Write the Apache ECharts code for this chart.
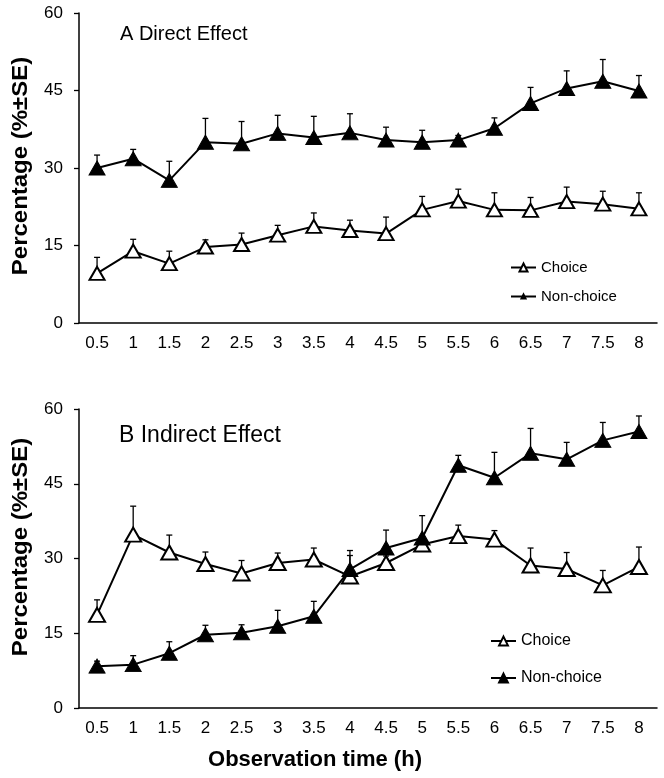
<!DOCTYPE html>
<html>
<head>
<meta charset="utf-8">
<script src="https://cdn.jsdelivr.net/npm/echarts@6/dist/echarts.min.js"></script>
<style>
html,body{margin:0;padding:0;background:#fff;}
#chart{width:664px;height:778px;}
</style>
</head>
<body>
<div id="chart"></div>
<script>
// ---- data ----
const categories = ['0.5','1','1.5','2','2.5','3','3.5','4','4.5','5','5.5','6','6.5','7','7.5','8'];
const yTicks = [0, 15, 30, 45, 60];

// Panel A: Direct Effect
const choiceA      = [9.6, 13.9, 11.5, 14.7, 15.2, 17.0, 18.7, 17.9, 17.3, 21.9, 23.6, 21.9, 21.8, 23.5, 23.0, 22.1];
const choiceA_SE   = [3.1, 2.3, 2.4, 1.4, 2.2, 1.9, 2.6, 2.0, 3.2, 2.6, 2.3, 3.3, 2.5, 2.8, 2.5, 3.1];
const nonChoiceA   = [30.0, 31.8, 27.6, 35.0, 34.7, 36.7, 35.9, 36.8, 35.4, 35.0, 35.4, 37.7, 42.5, 45.4, 46.8, 44.9];
const nonChoiceA_SE= [2.5, 1.8, 3.7, 4.6, 4.3, 3.5, 4.1, 3.7, 2.5, 2.3, 0.9, 2.0, 3.1, 3.4, 4.2, 3.0];

// Panel B: Indirect Effect
const choiceB      = [18.7, 34.8, 31.2, 28.9, 27.0, 29.1, 29.8, 26.4, 29.1, 32.8, 34.5, 33.8, 28.6, 27.9, 24.6, 28.3];
const choiceB_SE   = [3.0, 5.7, 3.5, 2.4, 2.6, 2.0, 2.3, 4.2, 1.4, 1.2, 2.2, 1.8, 3.5, 3.3, 3.0, 4.0];
const nonChoiceB   = [8.4, 8.7, 11.0, 14.7, 15.1, 16.4, 18.4, 27.8, 32.1, 34.1, 48.7, 46.2, 51.1, 49.9, 53.7, 55.5];
const nonChoiceB_SE= [1.0, 1.8, 2.3, 1.9, 1.6, 3.2, 3.0, 3.8, 3.6, 4.5, 2.0, 5.1, 5.0, 3.4, 3.6, 3.1];

const FONT = 'Arial, "Liberation Sans", sans-serif';

function errData(vals, se){
  return vals.map((v,i)=>[i, v, v + se[i]]);
}
function errRender(params, api){
  const x = api.value(0), m = api.value(1), t = api.value(2);
  const p0 = api.coord([x, m]);
  const p1 = api.coord([x, t]);
  const w = 3;
  return {type:'group', children:[
    {type:'line', shape:{x1:p0[0], y1:p0[1], x2:p1[0], y2:p1[1]}, style:{stroke:'#000', lineWidth:1.3}},
    {type:'line', shape:{x1:p1[0]-w, y1:p1[1], x2:p1[0]+w, y2:p1[1]}, style:{stroke:'#000', lineWidth:1.3}}
  ]};
}
function xAxisCfg(gi){
  return {
    type:'category', gridIndex:gi, data:categories, boundaryGap:true,
    axisLine:{lineStyle:{color:'#000', width:1.5}},
    axisTick:{length:5, lineStyle:{color:'#000', width:1.3}},
    axisLabel:{color:'#000', fontFamily:FONT, fontSize:17, margin:12},
    splitLine:{show:false}
  };
}
function yAxisCfg(gi){
  return {
    type:'value', gridIndex:gi, min:yTicks[0], max:yTicks[yTicks.length-1], interval:15,
    axisLine:{show:true, lineStyle:{color:'#000', width:1.5}},
    axisTick:{show:true, length:5, lineStyle:{color:'#000', width:1.3}},
    axisLabel:{color:'#000', fontFamily:FONT, fontSize:17, margin:16},
    splitLine:{show:false}
  };
}
function lineSeries(name, data, gi, filled, size){
  return {
    type:'line', name:name, xAxisIndex:gi, yAxisIndex:gi, data:data,
    symbol:'triangle', symbolSize:size,
    lineStyle:{color:'#000', width:2},
    itemStyle: filled ? {color:'#000', borderColor:'#000', borderWidth:1}
                      : {color:'#fff', borderColor:'#000', borderWidth:2},
    z:3, animation:false
  };
}
function errSeries(vals, se, gi){
  return {
    type:'custom', xAxisIndex:gi, yAxisIndex:gi, data:errData(vals, se),
    encode:{x:0, y:[1,2]}, renderItem:errRender, z:2, silent:true, animation:false
  };
}
function legendCfg(name, left, top, itemHeight, fontSize){
  return {
    data:[name], left:left, top:top, orient:'vertical',
    itemWidth:25, itemHeight:itemHeight, selectedMode:false,
    textStyle:{color:'#000', fontFamily:FONT, fontSize:fontSize}
  };
}

const chart = echarts.init(document.getElementById('chart'), null, {renderer:'canvas'});
chart.setOption({
  backgroundColor:'#fff',
  animation:false,
  grid:[
    {left:79, right:7, top:13, height:310},
    {left:79, right:7, top:409, height:299}
  ],
  xAxis:[xAxisCfg(0), xAxisCfg(1)],
  yAxis:[yAxisCfg(0), yAxisCfg(1)],
  legend:[
    legendCfg('Choice', 505, 255, 10, 15),
    legendCfg('Non-choice', 505, 284, 5, 15),
    legendCfg('Choice', 485, 628, 11, 16),
    legendCfg('Non-choice', 485, 665, 11, 16)
  ],
  graphic:[
    {type:'text', left:120, top:24, style:{text:'A Direct Effect', font:'20px '+FONT, fill:'#000'}},
    {type:'text', left:119, top:424, style:{text:'B Indirect Effect', font:'23px '+FONT, fill:'#000'}},
    {type:'text', x:21, y:166, rotation:Math.PI/2, scaleX:1.09,
      style:{text:'Percentage (%\u00B1SE)', font:'bold 22px '+FONT, fill:'#000', align:'center', verticalAlign:'middle'}},
    {type:'text', x:21, y:547, rotation:Math.PI/2, scaleX:1.09,
      style:{text:'Percentage (%\u00B1SE)', font:'bold 22px '+FONT, fill:'#000', align:'center', verticalAlign:'middle'}},
    {type:'text', x:315, y:760,
      style:{text:'Observation time (h)', font:'bold 22px '+FONT, fill:'#000', align:'center', verticalAlign:'middle'}}
  ],
  series:[
    errSeries(choiceA, choiceA_SE, 0),
    errSeries(nonChoiceA, nonChoiceA_SE, 0),
    lineSeries('Choice', choiceA, 0, false, [15,13]),
    lineSeries('Non-choice', nonChoiceA, 0, true, [16,14]),
    errSeries(choiceB, choiceB_SE, 1),
    errSeries(nonChoiceB, nonChoiceB_SE, 1),
    lineSeries('Choice', choiceB, 1, false, [16,14]),
    lineSeries('Non-choice', nonChoiceB, 1, true, [16,14])
  ]
});
</script>
</body>
</html>
